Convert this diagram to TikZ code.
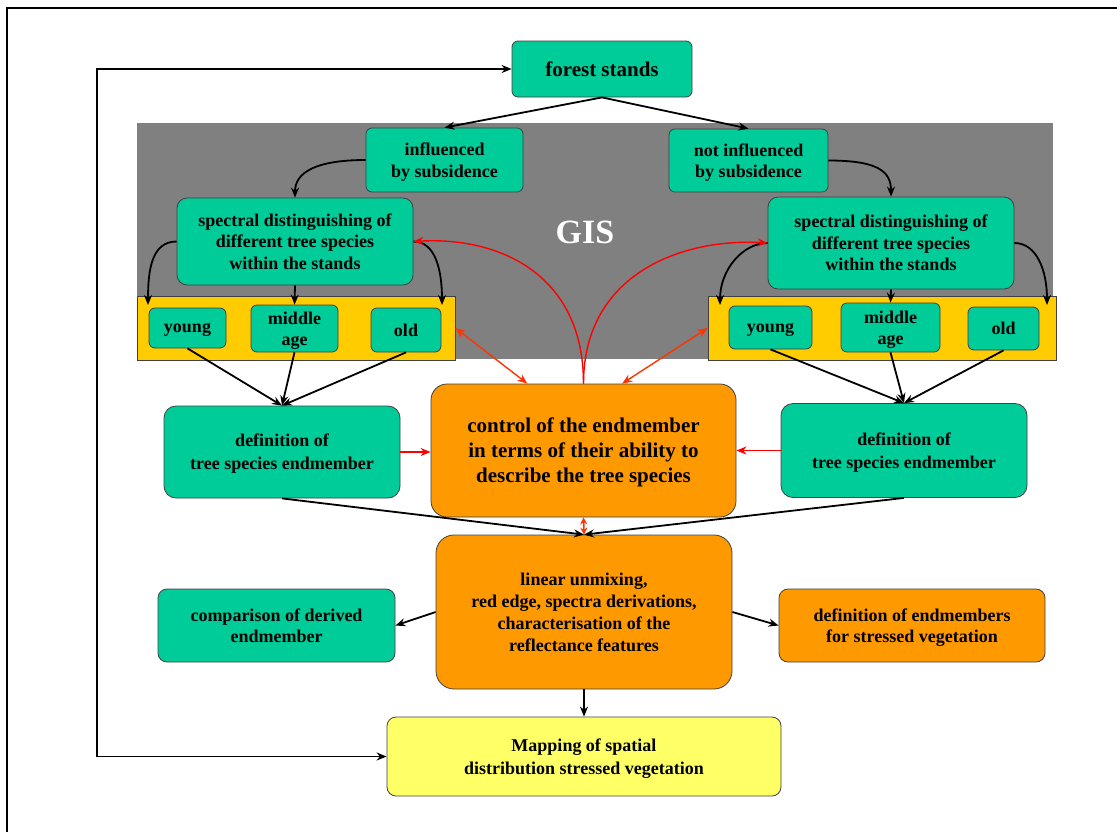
\documentclass[tikz,border=0pt]{standalone}
\usepackage{fontspec}
\setmainfont{Liberation Serif}
\usepackage{tikz}
\usetikzlibrary{arrows.meta, positioning, calc}
\usepackage{xcolor}

\definecolor{standgreen}{HTML}{00CC99}
\definecolor{ctrlorange}{HTML}{FF9900}
\definecolor{agegold}{HTML}{FFCC00}
\definecolor{mapyellow}{HTML}{FFFF66}
\definecolor{gisgray}{HTML}{808080}
\definecolor{linkred}{HTML}{FF3300}

\tikzset{
  box/.style={draw=black!75, line width=0.8pt, rounded corners=6pt, align=center,
    inner sep=1pt, text depth=-1.5pt, font=\bfseries\fontsize{18}{21.5}\selectfont},
  greenbox/.style={box, fill=standgreen},
  orangebox/.style={box, fill=ctrlorange},
  band/.style={draw=black!75, line width=0.8pt, fill=agegold},
  arr/.style={line width=1.8pt, -{Stealth[length=10pt,width=8pt]}},
  redarr/.style={line width=1.4pt, red, -{Stealth[length=10pt,width=8pt]}},
  linkarr/.style={line width=1.4pt, linkred, {Stealth[length=10pt,width=8pt]}-{Stealth[length=10pt,width=8pt]}}
}

\begin{document}
\begin{tikzpicture}[x=1pt, y=-1pt]
  \useasboundingbox (0,0) rectangle (1117,831);
  \draw[line width=1.8pt] (7,845) -- (7,8) -- (1125,8);

  % GIS area
  \fill[gisgray] (137,123) rectangle (1053,359);
  \node[text=white, font=\bfseries\fontsize{34}{40}\selectfont] (gis) at (585,232) {GIS};

  % top
  \node[greenbox, minimum width=180pt, minimum height=56pt, font=\bfseries\fontsize{21}{25}\selectfont] (fs) at (602,69) {forest stands};
  \node[greenbox, minimum width=157pt, minimum height=64pt] (inf) at (444.5,160) {influenced\\by subsidence};
  \node[greenbox, minimum width=159pt, minimum height=63pt] (ninf) at (748.5,160.5) {not influenced\\by subsidence};
  \node[greenbox, minimum width=236pt, minimum height=87pt, rounded corners=10pt] (specL) at (295,241.5) {spectral distinguishing of\\different tree species\\within the stands};
  \node[greenbox, minimum width=246pt, minimum height=92pt, rounded corners=10pt] (specR) at (891,243) {spectral distinguishing of\\different tree species\\within the stands};

  % age classes
  \node[band, minimum width=318pt, minimum height=64pt] (bandL) at (296,328) {};
  \node[band, minimum width=348pt, minimum height=64pt] (bandR) at (882,328) {};
  \node[greenbox, minimum width=77pt, minimum height=40pt] (youngL) at (187.5,328) {young};
  \node[greenbox, minimum width=87pt, minimum height=47pt] (midL) at (294.5,328.5) {middle\\age};
  \node[greenbox, minimum width=70pt, minimum height=44pt] (oldL) at (406,330) {old};
  \node[greenbox, minimum width=83pt, minimum height=43pt] (youngR) at (770.5,327.5) {young};
  \node[greenbox, minimum width=99pt, minimum height=49pt] (midR) at (890.5,327.5) {middle\\age};
  \node[greenbox, minimum width=71pt, minimum height=43pt] (oldR) at (1003.5,328.5) {old};

  \coordinate (tipLL) at (148,305);
  \coordinate (tipLR) at (442,305);
  \coordinate (tipRL) at (720,305);
  \coordinate (tipRR) at (1047,305);

  % endmember definition and control
  \node[greenbox, minimum width=236pt, minimum height=92pt, rounded corners=12pt, font=\bfseries\fontsize{18}{23}\selectfont] (defL) at (282,452) {definition of\\tree species endmember};
  \node[orangebox, minimum width=305pt, minimum height=133pt, rounded corners=16pt, font=\bfseries\fontsize{21}{25}\selectfont] (ctrl) at (583.5,450.5) {control of the endmember\\in terms of their ability to\\describe the tree species};
  \node[greenbox, minimum width=246pt, minimum height=94pt, rounded corners=12pt, font=\bfseries\fontsize{18}{23}\selectfont] (defR) at (904,450.5) {definition of\\tree species endmember};

  % analysis
  \node[orangebox, minimum width=296pt, minimum height=154pt, rounded corners=18pt, font=\bfseries\fontsize{18}{22}\selectfont] (lin) at (584,612) {linear unmixing,\\red edge, spectra derivations,\\characterisation of the\\reflectance features};
  \node[greenbox, minimum width=237pt, minimum height=73pt, rounded corners=9pt] (cmp) at (276.5,625.5) {comparison of derived\\endmember};
  \node[orangebox, minimum width=266pt, minimum height=73pt, rounded corners=9pt] (str) at (912,625.5) {definition of endmembers\\for stressed vegetation};
  \node[box, fill=mapyellow, minimum width=394pt, minimum height=79pt, rounded corners=9pt, font=\bfseries\fontsize{18}{23}\selectfont] (map) at (584,756.5) {Mapping of spatial\\distribution stressed vegetation};

  \coordinate (loopB) at (97,756.5);
  \coordinate (loopT) at (97,69);

  % black connectors
  \draw[arr] (fs.south) -- (inf.north);
  \draw[arr] (fs.south) -- (ninf.north);
  \draw[arr] (inf.west) .. controls +(-50,0) and +(0,-25) .. (specL.north);
  \draw[arr] (ninf.east) .. controls +(50,0) and +(0,-25) .. (specR.north);
  \draw[arr] (specL.west) .. controls +(-25,0) and +(0,-35) .. (tipLL);
  \draw[arr] (specL.south) -- (midL.north);
  \draw[arr] (specL.east) .. controls +(22,0) and +(0,-35) .. (tipLR);
  \draw[arr] (specR.west) .. controls +(-25,0) and +(0,-35) .. (tipRL);
  \draw[arr] (specR.south) -- (midR.north);
  \draw[arr] (specR.east) .. controls +(22,0) and +(0,-35) .. (tipRR);
  \foreach \n in {youngL, midL, oldL} \draw[arr] (\n.south) -- (defL.north);
  \foreach \n in {youngR, midR, oldR} \draw[arr] (\n.south) -- (defR.north);
  \draw[arr] (defL.south) -- (lin.north);
  \draw[arr] (defR.south) -- (lin.north);
  \draw[arr] (lin.west) -- (cmp.east);
  \draw[arr] (lin.east) -- (str.west);
  \draw[arr] (lin.south) -- (map.north);
  \draw[arr, {Stealth[length=10pt,width=8pt]}-{Stealth[length=10pt,width=8pt]}] (fs.west) -- (loopT) -- (loopB) -- (map.west);

  % red connectors
  \draw[redarr] (ctrl.north) .. controls +(0,-110) and +(85,-5) .. (specL.east);
  \draw[redarr] (ctrl.north) .. controls +(0,-110) and +(-85,-5) .. (specR.west);
  \draw[redarr] (defL.east) -- (defL.east -| ctrl.west);
  \draw[redarr] (defR.west) -- (defR.west -| ctrl.east);
  \draw[linkarr] (bandL.east) -- (ctrl.130);
  \draw[linkarr] (bandR.west) -- (ctrl.60);
  \draw[line width=1.6pt, linkred, {Stealth[length=7pt,width=7pt]}-{Stealth[length=7pt,width=7pt]}] (ctrl.south) -- (lin.north);
\end{tikzpicture}
\end{document}
